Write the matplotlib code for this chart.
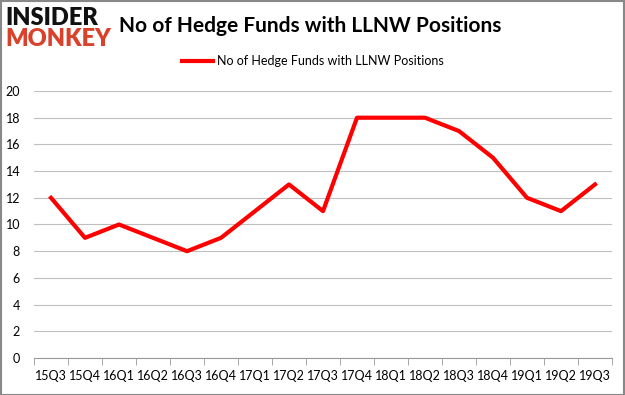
import matplotlib.pyplot as plt
import numpy as np

plt.rcParams['font.family'] = ['Lato', 'DejaVu Sans']

quarters = ['15Q3', '15Q4', '16Q1', '16Q2', '16Q3', '16Q4', '17Q1', '17Q2', '17Q3',
            '17Q4', '18Q1', '18Q2', '18Q3', '18Q4', '19Q1', '19Q2', '19Q3']
funds = [12, 9, 10, 9, 8, 9, 11, 13, 11, 18, 18, 18, 17, 15, 12, 11, 13]
series_name = 'No of Hedge Funds with LLNW Positions'

fig = plt.figure(figsize=(6.25, 3.95), dpi=100)
ax = fig.add_axes([0.0544, 0.0937, 0.9248, 0.6759])

x = np.arange(len(quarters))
ax.plot(x, funds, color='#ff0000', linewidth=3, label=series_name)

ax.set_xlim(-0.5, len(quarters) - 0.5)
ax.set_ylim(0, 20)
ax.set_yticks(range(0, 21, 2))
ax.set_xticks(x)
ax.set_xticklabels(quarters)
ax.set_xticks(np.arange(-0.5, len(quarters), 1), minor=True)
ax.grid(axis='y', color='#bfbfbf', linewidth=0.8)
ax.set_axisbelow(True)
for side in ['top', 'right', 'left']:
    ax.spines[side].set_visible(False)
ax.spines['bottom'].set_color('#999999')
ax.tick_params(axis='x', which='major', length=0, pad=9, labelsize=9)
ax.tick_params(axis='x', which='minor', length=5, color='#999999')
ax.tick_params(axis='y', length=0, labelsize=9, pad=10)

fig.legend(loc='center', bbox_to_anchor=(0.5, 0.845), frameon=False,
           fontsize=9, handlelength=2.5, handletextpad=0.3)

fig.text(0.19, 0.935, 'No of Hedge Funds with LLNW Positions', fontsize=15,
         fontweight='bold', va='center', ha='left')
fig.text(0.008, 0.955, 'INSIDER', fontsize=17, fontweight='heavy', color='#111111',
         va='center', ha='left')
fig.text(0.008, 0.9, 'MONKEY', fontsize=17, fontweight='heavy', color='#d9412b',
         va='center', ha='left')

fig.patches.append(plt.Rectangle((0.001, 0.001), 0.997, 0.997, transform=fig.transFigure,
                                 fill=False, edgecolor='#888888', linewidth=1.5))

fig.savefig('out.png', dpi=100)
